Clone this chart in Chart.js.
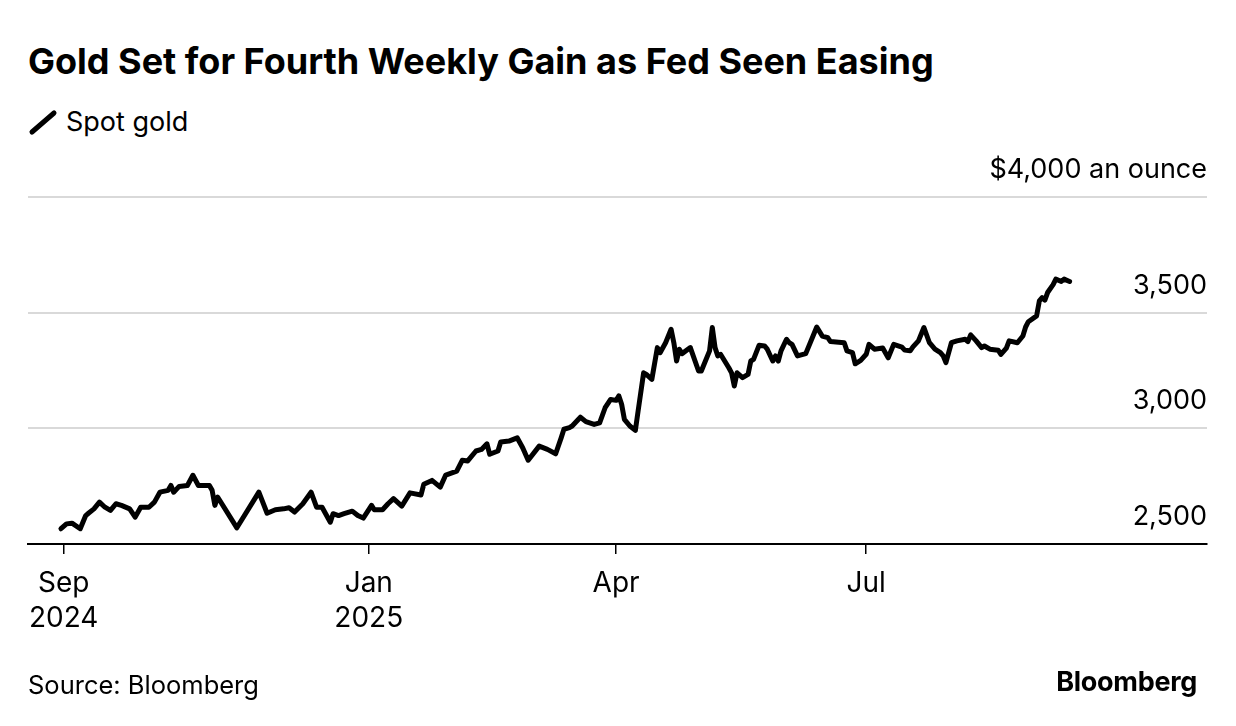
<!DOCTYPE html>
<html>
<head>
<meta charset="utf-8">
<script src="https://cdn.jsdelivr.net/npm/chart.js@4.4.1/dist/chart.umd.min.js"></script>
<style>
  html, body { margin: 0; padding: 0; background: #fff; }
  body { width: 1236px; height: 726px; position: relative; overflow: hidden; font-family: Inter, "Liberation Sans", sans-serif; color: #000; }
  .title { position: absolute; left: 28px; top: 43px; font-size: 36px; font-weight: 700; line-height: 36px; white-space: nowrap; }
  .legend { position: absolute; left: 28px; top: 107px; font-size: 27px; line-height: 27px; white-space: nowrap; }
  .legend svg { position: absolute; left: 0; top: 0; }
  .legend span { position: absolute; left: 38px; top: 1px; }
  .source { position: absolute; left: 28px; top: 672px; font-size: 25.5px; line-height: 25px; white-space: nowrap; }
  .logo { position: absolute; right: 39px; top: 668px; font-size: 27px; font-weight: 700; line-height: 27px; letter-spacing: -0.3px; }
  #wrap { position: absolute; left: 0; top: 0; width: 1236px; height: 726px; }
</style>
</head>
<body>
<div class="title">Gold Set for Fourth Weekly Gain as Fed Seen Easing</div>
<div class="legend">
  <svg width="32" height="30"><line x1="4" y1="25" x2="26" y2="6" stroke="#000" stroke-width="5" stroke-linecap="round"/></svg>
  <span>Spot gold</span>
</div>
<div id="wrap"><canvas id="goldChart"></canvas></div>
<div class="source">Source: Bloomberg</div>
<div class="logo">Bloomberg</div>
<script>
// spot gold
const dates = [
  '2024-09-11','2024-09-13','2024-09-15','2024-09-18','2024-09-20','2024-09-21','2024-09-23','2024-09-25',
  '2024-09-27','2024-09-29','2024-10-01','2024-10-03','2024-10-06','2024-10-08','2024-10-10','2024-10-13',
  '2024-10-15','2024-10-17','2024-10-20','2024-10-21','2024-10-22','2024-10-24','2024-10-27','2024-10-29',
  '2024-10-31','2024-11-04','2024-11-05','2024-11-06','2024-11-07','2024-11-14','2024-11-22','2024-11-25',
  '2024-11-28','2024-12-01','2024-12-03','2024-12-05','2024-12-08','2024-12-11','2024-12-13','2024-12-15',
  '2024-12-18','2024-12-19','2024-12-21','2024-12-23','2024-12-26','2024-12-28','2024-12-30','2025-01-02',
  '2025-01-03','2025-01-06','2025-01-08','2025-01-10','2025-01-13','2025-01-16','2025-01-20','2025-01-21',
  '2025-01-24','2025-01-27','2025-01-29','2025-02-02','2025-02-04','2025-02-06','2025-02-09','2025-02-11',
  '2025-02-13','2025-02-14','2025-02-17','2025-02-18','2025-02-21','2025-02-24','2025-02-26','2025-02-28',
  '2025-03-04','2025-03-07','2025-03-10','2025-03-12','2025-03-13','2025-03-15','2025-03-16','2025-03-19',
  '2025-03-21','2025-03-24','2025-03-26','2025-03-28','2025-03-30','2025-04-01','2025-04-02','2025-04-03',
  '2025-04-04','2025-04-06','2025-04-08','2025-04-09','2025-04-11','2025-04-12','2025-04-14','2025-04-16',
  '2025-04-17','2025-04-19','2025-04-21','2025-04-22','2025-04-23','2025-04-24','2025-04-25','2025-04-28',
  '2025-05-01','2025-05-02','2025-05-05','2025-05-06','2025-05-07','2025-05-08','2025-05-09','2025-05-12',
  '2025-05-13','2025-05-14','2025-05-15','2025-05-17','2025-05-19','2025-05-20','2025-05-21','2025-05-23',
  '2025-05-25','2025-05-26','2025-05-28','2025-05-29','2025-05-30','2025-05-31','2025-06-02','2025-06-03',
  '2025-06-04','2025-06-06','2025-06-09','2025-06-13','2025-06-15','2025-06-17','2025-06-18','2025-06-23',
  '2025-06-24','2025-06-26','2025-06-27','2025-06-29','2025-07-01','2025-07-02','2025-07-04','2025-07-07',
  '2025-07-09','2025-07-11','2025-07-14','2025-07-15','2025-07-17','2025-07-18','2025-07-20','2025-07-22',
  '2025-07-24','2025-07-26','2025-07-28','2025-07-29','2025-07-30','2025-08-01','2025-08-03','2025-08-06',
  '2025-08-07','2025-08-08','2025-08-10','2025-08-12','2025-08-13','2025-08-15','2025-08-18','2025-08-19',
  '2025-08-21','2025-08-22','2025-08-25','2025-08-27','2025-08-28','2025-08-29','2025-09-01','2025-09-02',
  '2025-09-03','2025-09-04','2025-09-05','2025-09-07','2025-09-08','2025-09-10','2025-09-11','2025-09-13'
];
const prices = [
  2566, 2587, 2590, 2566, 2623, 2633, 2652, 2681,
  2659, 2645, 2674, 2667, 2652, 2616, 2659, 2659,
  2681, 2724, 2732, 2753, 2724, 2749, 2753, 2797,
  2753, 2753, 2732, 2667, 2703, 2570, 2724, 2633,
  2648, 2652, 2657, 2638, 2674, 2724, 2659, 2659,
  2594, 2631, 2623, 2631, 2642, 2623, 2612, 2667,
  2648, 2648, 2674, 2696, 2664, 2721, 2712, 2758,
  2775, 2746, 2798, 2815, 2862, 2859, 2902, 2909,
  2933, 2888, 2902, 2941, 2945, 2959, 2916, 2862,
  2923, 2909, 2890, 2959, 2996, 3003, 3010, 3048,
  3029, 3017, 3024, 3089, 3125, 3121, 3140, 3104,
  3039, 3010, 2991, 3075, 3240, 3233, 3212, 3349,
  3327, 3370, 3428, 3370, 3291, 3342, 3323, 3349,
  3248, 3248, 3335, 3436, 3349, 3313, 3320, 3262,
  3240, 3183, 3240, 3219, 3233, 3291, 3298, 3359,
  3356, 3342, 3291, 3313, 3291, 3335, 3385, 3370,
  3363, 3313, 3323, 3438, 3399, 3392, 3375, 3370,
  3335, 3327, 3279, 3294, 3320, 3363, 3342, 3347,
  3305, 3363, 3351, 3338, 3335, 3352, 3378, 3436,
  3370, 3342, 3327, 3313, 3284, 3370, 3378, 3385,
  3375, 3404, 3378, 3349, 3356, 3342, 3338, 3320,
  3347, 3378, 3370, 3399, 3438, 3461, 3486, 3551,
  3565, 3554, 3587, 3621, 3645, 3635, 3645, 3635
];

const xStart = '2024-08-30';
const xEnd = '2025-11-02';
const xTickDates = ['2024-09-12', '2025-01-01', '2025-04-01', '2025-07-01'];
const xTickLabels = [['Sep', '2024'], ['Jan', '2025'], ['Apr'], ['Jul']];
const yTicks = [2500, 3000, 3500, 4000];
const yTickLabels = ['2,500', '3,000', '3,500', '$4,000 an ounce'];

function dayNum(s) {
  const p = s.split('-');
  return Date.UTC(+p[0], +p[1] - 1, +p[2]) / 86400000;
}

const xTickDays = xTickDates.map(dayNum);
const points = dates.map((d, i) => ({ x: dayNum(d), y: prices[i] }));

const ctx = document.getElementById('goldChart').getContext('2d');
const fam = 'Inter, "Liberation Sans", sans-serif';

new Chart(ctx, {
  type: 'line',
  data: {
    datasets: [{
      label: 'Spot gold',
      data: points,
      borderColor: '#000',
      borderWidth: 5,
      borderJoinStyle: 'round',
      borderCapStyle: 'round',
      pointRadius: 0,
      tension: 0
    }]
  },
  options: {
    responsive: true,
    maintainAspectRatio: false,
    animation: false,
    layout: { padding: { left: 28, right: 29, top: 197, bottom: 78 } },
    plugins: { legend: { display: false }, tooltip: { enabled: false } },
    scales: {
      x: {
        type: 'linear',
        min: dayNum(xStart),
        max: dayNum(xEnd),
        afterBuildTicks: (axis) => { axis.ticks = xTickDays.map(v => ({ value: v })); },
        ticks: {
          autoSkip: false,
          maxRotation: 0,
          padding: 12,
          color: '#000',
          font: { family: fam, size: 28, lineHeight: 1.25 },
          callback: (v) => xTickLabels[xTickDays.indexOf(v)]
        },
        grid: { drawOnChartArea: false, drawTicks: true, tickLength: 10, color: '#000', lineWidth: 1.5 },
        border: { display: true, color: '#000', width: 2 }
      },
      y: {
        position: 'right',
        min: 2500,
        max: 4000,
        afterBuildTicks: (axis) => { axis.ticks = yTicks.map(v => ({ value: v })); },
        ticks: {
          mirror: true,
          padding: 0,
          labelOffset: -27,
          color: '#000',
          font: { family: fam, size: 27 },
          callback: (v) => yTickLabels[yTicks.indexOf(v)]
        },
        grid: {
          drawTicks: false,
          lineWidth: 2,
          color: (c) => (c.tick && c.tick.value === 2500) ? 'rgba(0,0,0,0)' : '#d9d9d9'
        },
        border: { display: false }
      }
    }
  }
});
</script>
</body>
</html>
